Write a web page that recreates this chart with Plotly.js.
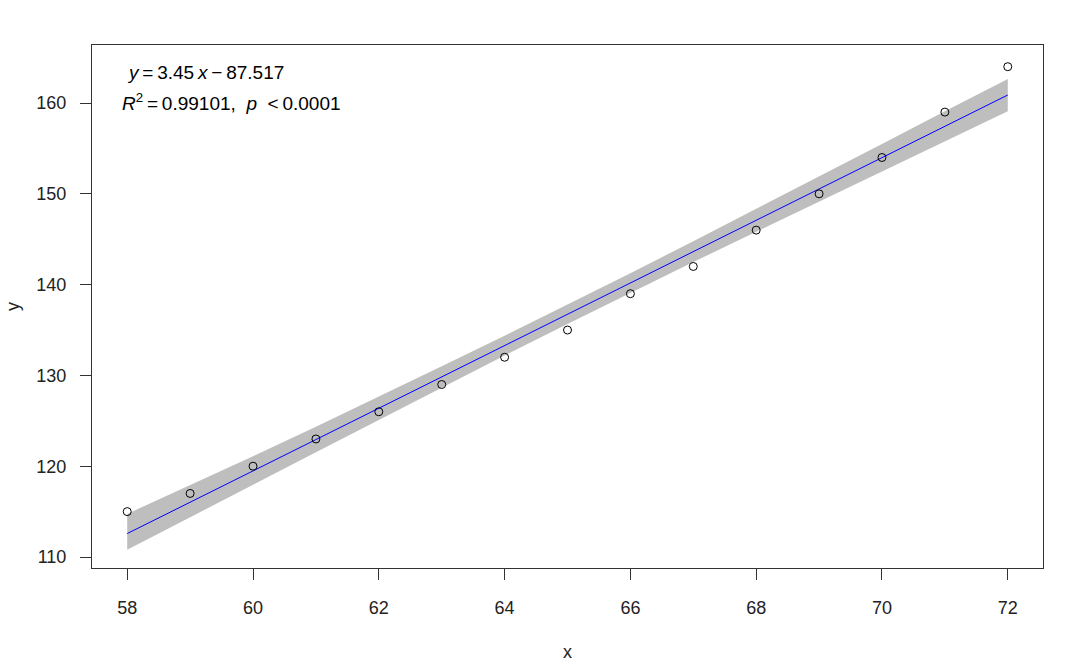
<!DOCTYPE html>
<html>
<head>
<meta charset="utf-8">
<script src="https://cdn.plot.ly/plotly-3.0.1.min.js"></script>
<style>html,body{margin:0;padding:0;background:#fff;}#chart{width:1080px;height:672px;}</style>
</head>
<body>
<div id="chart"></div>
<script>
// Observed data
const xVals = [58, 59, 60, 61, 62, 63, 64, 65, 66, 67, 68, 69, 70, 71, 72];
const yVals = [115, 117, 120, 123, 126, 129, 132, 135, 139, 142, 146, 150, 154, 159, 164];
const fitVals = [112.583, 116.033, 119.483, 122.933, 126.383, 129.833, 133.283, 136.733, 140.183, 143.633, 147.083, 150.533, 153.983, 157.433, 160.883];
// Confidence band edges
const bandUpper = [114.75, 117.90, 121.10, 124.35, 127.65, 131.00, 134.38, 137.80, 141.26, 144.78, 148.33, 151.93, 155.50, 159.10, 162.65];
const bandLower = [110.80, 114.35, 117.95, 121.55, 125.12, 128.67, 132.19, 135.67, 139.10, 142.48, 145.83, 149.13, 152.45, 155.75, 159.10];
const xTicks = [58, 60, 62, 64, 66, 68, 70, 72];
const yTicks = [110, 120, 130, 140, 150, 160];
const eqLine1 = "<i>y</i>\u2009=\u20093.45\u2009<i>x</i>\u2009\u2212\u200987.517";
const eqLine2 = "<i>R</i><sup>2</sup>\u2009=\u20090.99101,  <i>p</i>  <\u20090.0001";

const font = "Liberation Sans, Arial, sans-serif";

const traces = [
  { x: xVals, y: bandLower, mode: 'lines', line: {width: 0, color: '#bebebe'}, hoverinfo: 'skip', showlegend: false },
  { x: xVals, y: bandUpper, mode: 'lines', fill: 'tonexty', fillcolor: '#bebebe', line: {width: 0, color: '#bebebe'}, hoverinfo: 'skip', showlegend: false },
  { x: xVals, y: fitVals, mode: 'lines', line: {color: '#0000ff', width: 1}, showlegend: false },
  { x: xVals, y: yVals, mode: 'markers', marker: {symbol: 'circle-open', size: 8, color: '#000000', line: {width: 1, color: '#000000'}}, showlegend: false }
];

const layout = {
  width: 1080, height: 672,
  paper_bgcolor: '#ffffff', plot_bgcolor: '#ffffff',
  margin: {l: 92, r: 37, t: 45, b: 104},
  font: {family: font, size: 18, color: '#000000'},
  xaxis: {
    range: [57.44, 72.56], tickvals: xTicks, ticktext: xTicks.map(String),
    showgrid: false, zeroline: false, showline: true, mirror: true, linecolor: '#333333', linewidth: 1,
    ticks: 'outside', ticklen: 11, tickcolor: '#333333', tickwidth: 1, ticklabelstandoff: 12,
    tickfont: {family: font, size: 18, color: '#222222'},
    title: {text: 'x', font: {family: font, size: 18, color: '#222222'}, standoff: 28}
  },
  yaxis: {
    range: [108.79, 166.39], tickvals: yTicks, ticktext: yTicks.map(String),
    showgrid: false, zeroline: false, showline: true, mirror: true, linecolor: '#333333', linewidth: 1,
    ticks: 'outside', ticklen: 11, tickcolor: '#333333', tickwidth: 1, ticklabelstandoff: 10,
    tickfont: {family: font, size: 18, color: '#222222'},
    title: {text: 'y', font: {family: font, size: 18, color: '#222222'}, standoff: 12}
  },
  annotations: [
    { xref: 'paper', yref: 'paper', x: 0.035, y: 0.947, xanchor: 'left', yanchor: 'middle', showarrow: false, align: 'left',
      text: eqLine1, font: {family: font, size: 19, color: '#000000'} },
    { xref: 'paper', yref: 'paper', x: 0.029, y: 0.891, xanchor: 'left', yanchor: 'middle', showarrow: false, align: 'left',
      text: eqLine2, font: {family: font, size: 19, color: '#000000'} }
  ]
};

Plotly.newPlot('chart', traces, layout, {displayModeBar: false, staticPlot: true});
</script>
</body>
</html>
